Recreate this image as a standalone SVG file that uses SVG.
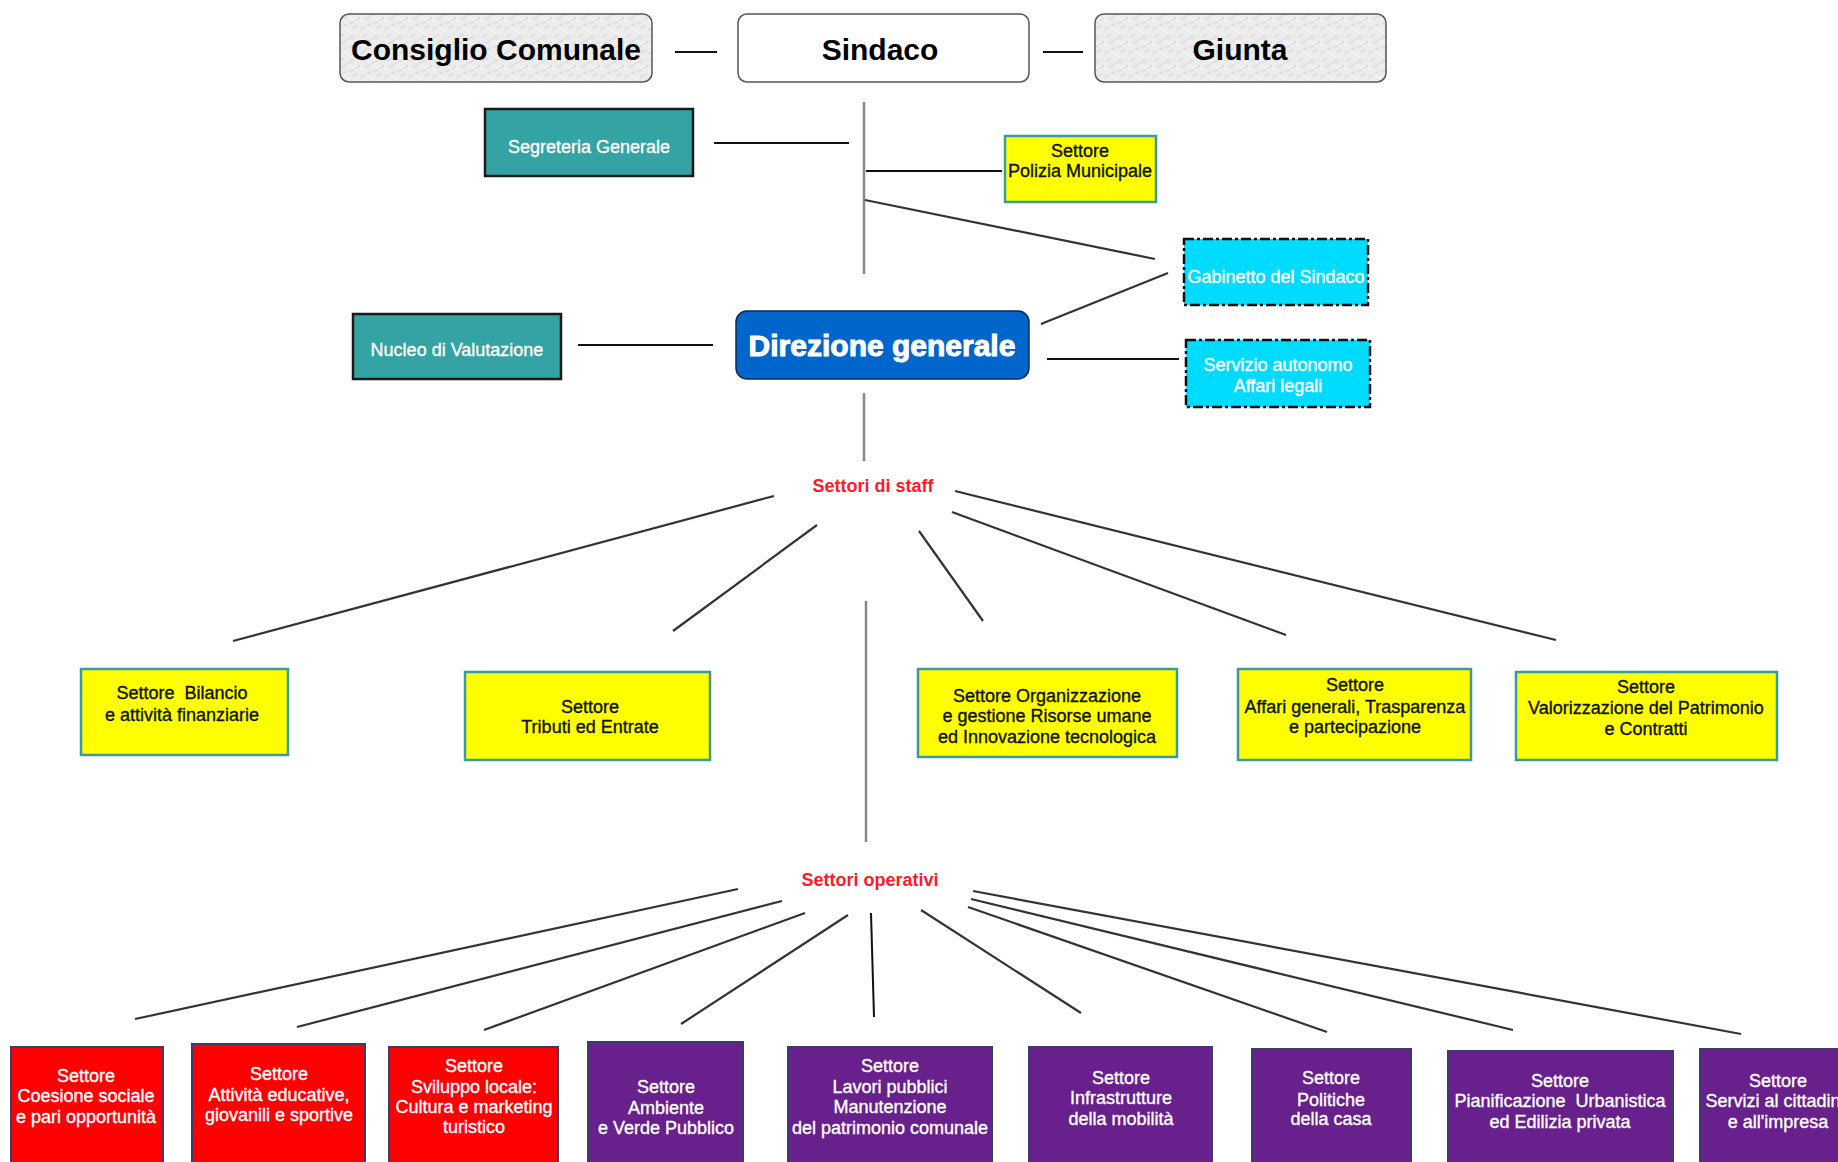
<svg xmlns="http://www.w3.org/2000/svg" width="1838" height="1162" viewBox="0 0 1838 1162">
<defs>
<pattern id="tex" width="24" height="24" patternUnits="userSpaceOnUse">
<rect width="24" height="24" fill="#ececec"/>
<path d="M0 6 L10 0 M4 20 L18 12 M14 24 L24 18 M2 13 L8 10 M16 5 L22 2" stroke="#d9d9d9" stroke-width="1.2"/>
<path d="M6 2 L14 8 M12 16 L20 22 M0 20 L4 23" stroke="#f7f7f7" stroke-width="1.2"/>
</pattern>
<style>
.top{stroke:#555;stroke-width:1.5}
.tt{font-family:"Liberation Sans",Arial,sans-serif;font-weight:bold;font-size:30px;fill:#000;text-anchor:middle}
.teal{fill:#33a3a3;stroke:#1a1a1a;stroke-width:2.5}
.yel{fill:#ffff00;stroke:#3a9aa0;stroke-width:2.5}
.cyan{fill:#00dbff;stroke:#111;stroke-width:2.5;stroke-dasharray:10 3 3 3}
.red{fill:#ff0000;stroke:#3c3c6a;stroke-width:2}
.pur{fill:#68208c;stroke:#3c3c6a;stroke-width:2}
.t{font-family:"Liberation Sans",Arial,sans-serif;font-size:18px;text-anchor:middle;stroke-width:0.35}
.w{fill:#fff;stroke:#fff}
.b{fill:#111;stroke:#111}
.lbl{font-family:"Liberation Sans",Arial,sans-serif;font-weight:bold;font-size:18px;fill:#ff1a2a;text-anchor:middle}
.h{stroke:#111;stroke-width:2;fill:none}
.v{stroke:#888;stroke-width:2.5;fill:none}
.d{stroke:#333;stroke-width:2.2;fill:none}
</style>
</defs>
<rect width="1838" height="1162" fill="#fff"/>

<g id="connectors">
<line class="h" x1="675" y1="52" x2="717" y2="52"/>
<line class="h" x1="1043" y1="52" x2="1083" y2="52"/>
<line class="v" x1="864" y1="102" x2="864" y2="274"/>
<line class="h" x1="714" y1="143" x2="849" y2="143"/>
<line class="h" x1="866" y1="171" x2="1002" y2="171"/>
<line class="d" x1="865" y1="200" x2="1155" y2="259"/>
<line class="d" x1="1041" y1="324" x2="1168" y2="273"/>
<line class="h" x1="578" y1="345" x2="713" y2="345"/>
<line class="h" x1="1047" y1="359" x2="1179" y2="359"/>
<line class="v" x1="864" y1="393" x2="864" y2="461"/>
<line class="d" x1="774" y1="496" x2="233" y2="641"/>
<line class="d" x1="817" y1="525" x2="673" y2="631"/>
<line class="d" x1="919" y1="531" x2="983" y2="621"/>
<line class="d" x1="952" y1="512" x2="1286" y2="635"/>
<line class="d" x1="955" y1="491" x2="1556" y2="640"/>
<line class="v" x1="866" y1="601" x2="866" y2="842"/>
<line class="d" x1="738" y1="889" x2="135" y2="1019"/>
<line class="d" x1="782" y1="901" x2="297" y2="1027"/>
<line class="d" x1="805" y1="913" x2="484" y2="1030"/>
<line class="d" x1="848" y1="915" x2="681" y2="1024"/>
<line class="h" x1="871" y1="913" x2="874" y2="1017"/>
<line class="d" x1="921" y1="910" x2="1081" y2="1013"/>
<line class="d" x1="968" y1="907" x2="1327" y2="1032"/>
<line class="d" x1="971" y1="899" x2="1513" y2="1030"/>
<line class="d" x1="973" y1="891" x2="1741" y2="1034"/>
</g>

<g id="consiglio"><rect x="340" y="14" width="312" height="68" rx="9" fill="url(#tex)" class="top"/><text class="tt" x="496" y="60">Consiglio Comunale</text></g>
<g id="sindaco"><rect x="738" y="14" width="291" height="68" rx="9" fill="#fff" class="top"/><text class="tt" x="880" y="60">Sindaco</text></g>
<g id="giunta"><rect x="1095" y="14" width="291" height="68" rx="9" fill="url(#tex)" class="top"/><text class="tt" x="1240" y="60">Giunta</text></g>

<g id="segreteria"><rect class="teal" x="485" y="109" width="208" height="67"/><text class="t w" x="589" y="153">Segreteria Generale</text></g>
<g id="polizia"><rect class="yel" x="1005" y="136" width="151" height="66"/><text class="t b" x="1080" y="157">Settore</text><text class="t b" x="1080" y="177">Polizia Municipale</text></g>
<g id="gabinetto"><rect class="cyan" x="1184" y="239" width="184" height="66"/><text class="t w" x="1276" y="283">Gabinetto del Sindaco</text></g>
<g id="nucleo"><rect class="teal" x="353" y="314" width="208" height="65"/><text class="t w" x="457" y="356">Nucleo di Valutazione</text></g>
<g id="direzione"><rect x="736" y="311" width="293" height="68" rx="11" fill="#0066cc" stroke="#0a2a5a" stroke-width="1.5"/><text class="tt w" x="882" y="356">Direzione generale</text></g>
<g id="affari-legali"><rect class="cyan" x="1186" y="340" width="184" height="67"/><text class="t w" x="1278" y="371">Servizio autonomo</text><text class="t w" x="1278" y="392">Affari legali</text></g>

<g id="staff-label"><text class="lbl" x="873" y="492">Settori di staff</text></g>

<g id="bilancio"><rect class="yel" x="81" y="669" width="207" height="86"/><text class="t b" x="182" y="699" xml:space="preserve">Settore  Bilancio</text><text class="t b" x="182" y="721">e attività finanziarie</text></g>
<g id="tributi"><rect class="yel" x="465" y="672" width="245" height="88"/><text class="t b" x="590" y="713">Settore</text><text class="t b" x="590" y="733">Tributi ed Entrate</text></g>
<g id="organizzazione"><rect class="yel" x="918" y="669" width="259" height="88"/><text class="t b" x="1047" y="702">Settore Organizzazione</text><text class="t b" x="1047" y="722">e gestione Risorse umane</text><text class="t b" x="1047" y="743">ed Innovazione tecnologica</text></g>
<g id="affari-generali"><rect class="yel" x="1238" y="669" width="233" height="91"/><text class="t b" x="1355" y="691">Settore</text><text class="t b" x="1355" y="713">Affari generali, Trasparenza</text><text class="t b" x="1355" y="733">e partecipazione</text></g>
<g id="patrimonio"><rect class="yel" x="1516" y="672" width="261" height="88"/><text class="t b" x="1646" y="693">Settore</text><text class="t b" x="1646" y="714">Valorizzazione del Patrimonio</text><text class="t b" x="1646" y="735">e Contratti</text></g>

<g id="operativi-label"><text class="lbl" x="870" y="886">Settori operativi</text></g>

<g id="coesione"><rect class="red" x="11" y="1047" width="152" height="125"/><text class="t w" x="86" y="1082">Settore</text><text class="t w" x="86" y="1102">Coesione sociale</text><text class="t w" x="86" y="1123">e pari opportunità</text></g>
<g id="educative"><rect class="red" x="192" y="1044" width="173" height="128"/><text class="t w" x="279" y="1080">Settore</text><text class="t w" x="279" y="1101">Attività educative,</text><text class="t w" x="279" y="1121">giovanili e sportive</text></g>
<g id="sviluppo"><rect class="red" x="389" y="1047" width="169" height="125"/><text class="t w" x="474" y="1072">Settore</text><text class="t w" x="474" y="1093">Sviluppo locale:</text><text class="t w" x="474" y="1113">Cultura e marketing</text><text class="t w" x="474" y="1133">turistico</text></g>
<g id="ambiente"><rect class="pur" x="588" y="1042" width="155" height="130"/><text class="t w" x="666" y="1093">Settore</text><text class="t w" x="666" y="1114">Ambiente</text><text class="t w" x="666" y="1134">e Verde Pubblico</text></g>
<g id="lavori"><rect class="pur" x="788" y="1047" width="204" height="125"/><text class="t w" x="890" y="1072">Settore</text><text class="t w" x="890" y="1093">Lavori pubblici</text><text class="t w" x="890" y="1113">Manutenzione</text><text class="t w" x="890" y="1134">del patrimonio comunale</text></g>
<g id="infrastrutture"><rect class="pur" x="1029" y="1047" width="183" height="125"/><text class="t w" x="1121" y="1084">Settore</text><text class="t w" x="1121" y="1104">Infrastrutture</text><text class="t w" x="1121" y="1125">della mobilità</text></g>
<g id="casa"><rect class="pur" x="1252" y="1049" width="159" height="123"/><text class="t w" x="1331" y="1084">Settore</text><text class="t w" x="1331" y="1106">Politiche</text><text class="t w" x="1331" y="1125">della casa</text></g>
<g id="urbanistica"><rect class="pur" x="1448" y="1051" width="225" height="121"/><text class="t w" x="1560" y="1087">Settore</text><text class="t w" x="1560" y="1107" xml:space="preserve">Pianificazione  Urbanistica</text><text class="t w" x="1560" y="1128">ed Edilizia privata</text></g>
<g id="servizi"><rect class="pur" x="1700" y="1049" width="160" height="123"/><text class="t w" x="1778" y="1087">Settore</text><text class="t w" x="1778" y="1107">Servizi al cittadino</text><text class="t w" x="1778" y="1128">e all'impresa</text></g>
</svg>
